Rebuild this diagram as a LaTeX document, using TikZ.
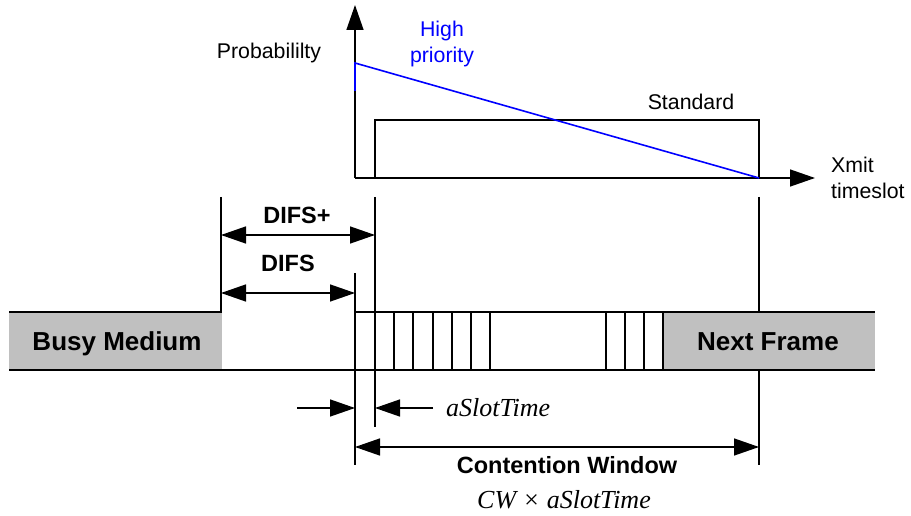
\documentclass[tikz,border=0pt]{standalone}
\usepackage{fontspec}
\setmainfont{Liberation Sans}
\newfontfamily\serifit{Liberation Serif}
\usetikzlibrary{arrows.meta}
\definecolor{busygray}{RGB}{192,192,192}
\begin{document}
\begin{tikzpicture}[x=1pt,y=-1pt,
  thinline/.style={line width=1.4pt},
  barline/.style={line width=1.8pt},
  dimarrow/.style={line width=1.4pt,-{Triangle[length=25pt,width=17pt]}},
  dimboth/.style={line width=1.4pt,{Triangle[length=25pt,width=17pt]}-{Triangle[length=25pt,width=17pt]}},
  lbl/.style={inner sep=0pt,font=\fontsize{21.3}{25.5}\selectfont},
  boldlbl/.style={inner sep=0pt,font=\fontsize{23.5}{28}\selectfont\bfseries},
  framelbl/.style={inner sep=0pt,font=\fontsize{26}{30}\selectfont\bfseries},
  itlbl/.style={inner sep=0pt,font=\fontsize{26}{30}\selectfont\serifit\itshape}]
\useasboundingbox (0,0) rectangle (911,516);

% ---- probability plot ----
\coordinate (origin) at (355,178);
\coordinate (ytip) at (355,5);
\coordinate (xtip) at (815,178);
\draw[dimarrow] (origin) -- (ytip);
\draw[dimarrow] (origin) -- (xtip);
\draw[thinline] (375,178) -- (375,120) -- (759,120) -- (759,178);
\coordinate (hpstart) at (355,63);
\coordinate (hpend) at (759,178);
\draw[blue,line width=1.6pt] (355,91) -- (hpstart) -- (hpend);

\node[lbl] (prob) at (269,53) {Probabililty};
\node[lbl,blue,align=center] (high) at (442,44) {High\\priority};
\node[lbl] (std) at (691,102) {Standard};
\node[lbl,align=left,anchor=west] (xmit) at (831,178) {Xmit\\timeslot};

% ---- medium bar ----
\fill[busygray] (9,312) rectangle (222,370);
\fill[busygray] (663,312) rectangle (875,370);
\draw[barline] (9,312) -- (222,312);
\draw[barline] (355,312) -- (875,312);
\draw[barline] (9,370) -- (875,370);
\foreach \sx in {394,413,433,452,471,490,606,625,644,663}
  \draw[thinline] (\sx,312) -- (\sx,370);

\node[framelbl,anchor=base] (busy) at (117,350) {Busy Medium};
\node[framelbl,anchor=base] (next) at (768,350) {Next Frame};

% ---- reference lines ----
\coordinate (a1) at (221,197);
\coordinate (a2) at (221,312);
\coordinate (b1) at (375,197);
\coordinate (b2) at (375,427);
\coordinate (c1) at (355,273);
\coordinate (c2) at (355,465);
\draw[thinline] (a1) -- (a2);
\draw[thinline] (b1) -- (b2);
\draw[thinline] (c1) -- (c2);
\draw[thinline] (759,197) -- (759,312);
\draw[thinline] (759,370) -- (759,465);

% ---- DIFS dimensions ----
\coordinate (difsp-l) at (221,235);
\coordinate (difsp-r) at (375,235);
\draw[dimboth] (difsp-l) -- (difsp-r);
\node[boldlbl] (difsplus) at (297,215) {DIFS+};
\coordinate (difs-l) at (221,293);
\coordinate (difs-r) at (355,293);
\draw[dimboth] (difs-l) -- (difs-r);
\node[boldlbl] (difs) at (288,263) {DIFS};

% ---- slot time ----
\coordinate (st-a) at (297,408);
\coordinate (st-b) at (355,408);
\coordinate (st-c) at (433,408);
\coordinate (st-d) at (375,408);
\draw[dimarrow] (st-a) -- (st-b);
\draw[dimarrow] (st-c) -- (st-d);
\node[itlbl,anchor=west] (slot) at (446,408) {aSlotTime};

% ---- contention window ----
\coordinate (cw-l) at (355,447);
\coordinate (cw-r) at (759,447);
\draw[dimboth] (cw-l) -- (cw-r);
\node[boldlbl,anchor=base] (cw) at (567,473) {Contention Window};
\node[itlbl,anchor=base] (cwform) at (564,508) {CW × aSlotTime};
\end{tikzpicture}
\end{document}
